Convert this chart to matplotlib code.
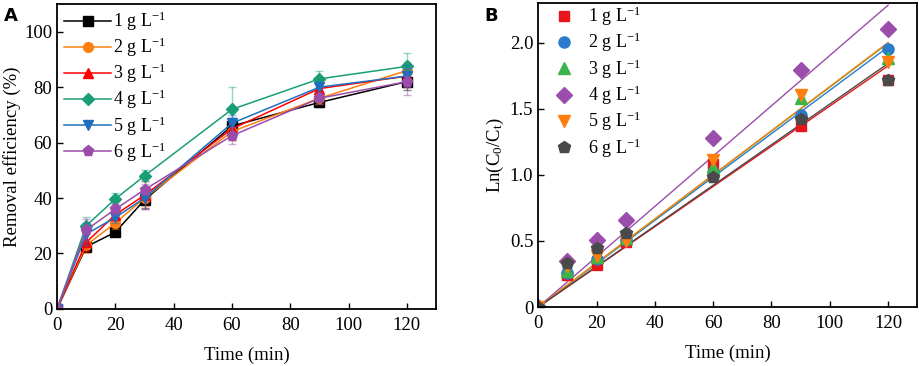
import numpy as np
import matplotlib
matplotlib.use("Agg")
import matplotlib.pyplot as plt

plt.rcParams['font.family'] = ['Liberation Serif', 'DejaVu Serif']
plt.rcParams['mathtext.fontset'] = 'custom'
plt.rcParams['mathtext.rm'] = 'Liberation Serif'
plt.rcParams['mathtext.it'] = 'Liberation Serif:italic'

time = [0, 10, 20, 30, 60, 90, 120]
labels = ['1 g L$^{\\mathregular{-1}}$', '2 g L$^{\\mathregular{-1}}$', '3 g L$^{\\mathregular{-1}}$',
          '4 g L$^{\\mathregular{-1}}$', '5 g L$^{\\mathregular{-1}}$', '6 g L$^{\\mathregular{-1}}$']

# Panel A: removal efficiency (%)
rem_1 = [0, 22.4, 27.7, 39.3, 66.0, 74.5, 82.0]
rem_2 = [0, 23.0, 31.0, 40.0, 64.0, 76.0, 86.0]
rem_3 = [0, 24.0, 34.0, 41.0, 65.0, 79.5, 84.0]
rem_4 = [0, 30.0, 39.7, 48.0, 72.0, 83.0, 87.5]
rem_5 = [0, 27.0, 33.0, 40.0, 67.0, 80.0, 84.0]
rem_6 = [0, 28.5, 36.0, 43.0, 62.5, 76.0, 82.0]
err_1 = [0, 2.0, 1.5, 3.0, 3.0, 1.5, 3.0]
err_2 = [0, 3.0, 2.0, 3.0, 3.0, 2.0, 3.0]
err_3 = [0, 3.0, 2.0, 5.0, 4.0, 2.0, 4.0]
err_4 = [0, 3.0, 2.0, 2.0, 8.0, 3.0, 5.0]
err_5 = [0, 4.0, 2.0, 4.0, 3.0, 2.0, 4.0]
err_6 = [0, 4.0, 2.0, 2.0, 3.0, 2.0, 5.0]

# Panel B: Ln(C0/Ct)
ln_1 = [0, 0.24, 0.32, 0.49, 1.08, 1.37, 1.72]
ln_2 = [0, 0.26, 0.36, 0.51, 1.02, 1.45, 1.95]
ln_3 = [0, 0.27, 0.38, 0.52, 1.06, 1.58, 1.88]
ln_4 = [0, 0.35, 0.505, 0.657, 1.28, 1.79, 2.10]
ln_5 = [0, 0.31, 0.39, 0.50, 1.11, 1.60, 1.85]
ln_6 = [0, 0.33, 0.45, 0.56, 0.98, 1.42, 1.72]

fig = plt.figure(figsize=(9.2, 3.66), dpi=100)
axA = fig.add_axes([0.062, 0.156, 0.412, 0.833])
axB = fig.add_axes([0.585, 0.161, 0.412, 0.831])

colorsA = ['#000000', '#ff7f0e', '#ff0000', '#1a9e77', '#1f6fc0', '#9b4dab']
markersA = ['s', 'o', '^', 'D', 'v', 'p']
msA = [6.5, 7, 7, 6.5, 7, 8]
rems = [rem_1, rem_2, rem_3, rem_4, rem_5, rem_6]
errs = [err_1, err_2, err_3, err_4, err_5, err_6]

for r, e, c, m, ms, lab in zip(rems, errs, colorsA, markersA, msA, labels):
    axA.errorbar(time, r, yerr=e, fmt='none', ecolor=c, alpha=0.45, elinewidth=1, capsize=3)
    axA.plot(time, r, color=c, marker=m, ms=ms, lw=1.1, label=lab)

axA.set_xlim(0, 130)
axA.set_ylim(0, 110)
axA.set_xticks([0, 20, 40, 60, 80, 100, 120])
axA.set_yticks([0, 20, 40, 60, 80, 100])
axA.set_xlabel('Time (min)', fontsize=13.5, labelpad=9)
axA.set_ylabel('Removal efficiency (%)', fontsize=13.5, labelpad=2)
axA.legend(loc='upper left', frameon=False, fontsize=13, handlelength=2.6,
           labelspacing=0.15, borderaxespad=0.0, handletextpad=0.1,
           bbox_to_anchor=(0.0, 1.005))

colorsB = ['#e8161b', '#2b7bca', '#3cb44b', '#9b4dab', '#ff7f0e', '#4a4a4a']
markersB = ['s', 'o', '^', 'D', 'v', 'p']
msB = [7, 8, 8, 8, 8, 9]
lns = [ln_1, ln_2, ln_3, ln_4, ln_5, ln_6]
t = np.array(time, dtype=float)
for y, c in zip(lns, colorsB):
    y = np.array(y)
    k = np.sum(t * y) / np.sum(t * t)
    axB.plot([0, 120], [0, k * 120], color=c, lw=1.0)
for y, c, m, ms, lab in zip(lns, colorsB, markersB, msB, labels):
    axB.plot(time, y, ls='none', color=c, marker=m, ms=ms, label=lab)

axB.set_xlim(0, 130)
axB.set_ylim(0, 2.3)
axB.set_xticks([0, 20, 40, 60, 80, 100, 120])
axB.set_yticks([0, 0.5, 1.0, 1.5, 2.0])
axB.set_yticklabels(['0', '0.5', '1.0', '1.5', '2.0'])
axB.set_xlabel('Time (min)', fontsize=13.5, labelpad=9)
axB.set_ylabel('Ln(C$_\\mathregular{0}$/C$_\\mathregular{t}$)', fontsize=13.5, labelpad=3)
axB.legend(loc='upper left', frameon=False, fontsize=13, handlelength=1.6,
           labelspacing=0.16, borderaxespad=0.0, handletextpad=0.55,
           bbox_to_anchor=(0.01, 1.018))

for ax in (axA, axB):
    ax.tick_params(direction='in', labelsize=13.5, length=4, width=1)
    ax.tick_params(axis='x', pad=6)
    for s in ax.spines.values():
        s.set_linewidth(1.3)

fig.text(0.004, 0.98, 'A', fontsize=13, fontweight='bold', family='DejaVu Sans', va='top')
fig.text(0.527, 0.98, 'B', fontsize=13, fontweight='bold', family='DejaVu Sans', va='top')

fig.savefig('out.png', dpi=100)
